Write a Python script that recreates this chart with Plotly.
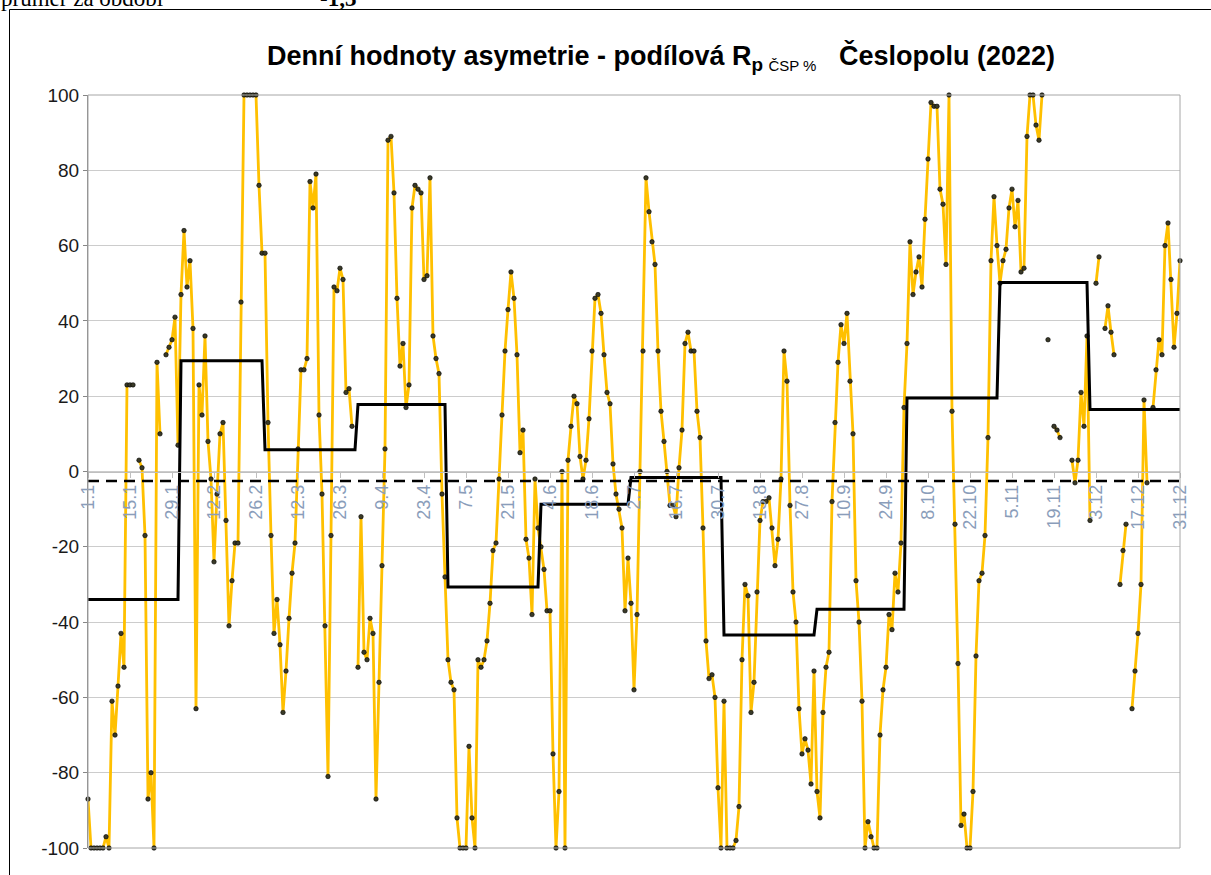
import pandas as pd
import plotly.graph_objects as go

# daily values (None = missing day)
JAN = [-87, -100, -100, -100, -100, -100, -97, -100, -61, -70, -57, -43, -52, 23, 23, 23, None,
       3, 1, -17, -87, -80, -100, 29, 10, None, 31, 33, 35, 41, 7]
FEB = [47, 64, 49, 56, 38, -63, 23, 15, 36, 8, -2, -24, -6, 10, 13, -13, -41, -29, -19, -19,
       45, 100, 100, 100, 100, 100, 76, 58]
MAR = [58, 13, -17, -43, -34, -46, -64, -53, -39, -27, -19, 6, 27, 27, 30, 77, 70, 79, 15, -6,
       -41, -81, -17, 49, 48, 54, 51, 21, 22, 12, None]
APR = [-52, -12, -48, -50, -39, -43, -87, -56, -25, 6, 88, 89, 74, 46, 28, 34, 17, 23, 70, 76,
       75, 74, 51, 52, 78, 36, 30, 26, -6, -28]
MAY = [-50, -56, -58, -92, -100, -100, -100, -73, -92, -100, -50, -52, -50, -45, -35, -21, -19,
       -2, 15, 32, 43, 53, 46, 31, 5, 11, -18, -23, -38, -2, -15]
JUN = [-20, -26, -37, -37, -75, -100, -85, 0, -100, 3, 12, 20, 18, 4, -2, 3, 14, 32, 46, 47,
       42, 31, 21, 18, 2, -6, -10, -15, -37, -23]
JUL = [-35, -58, -38, 0, 32, 78, 69, 61, 55, 32, 16, 8, 0, -9, -9, -12, 1, 11, 34, 37, 32, 32,
       16, 9, -15, -45, -55, -54, -60, -84, -100]
AUG = [-61, -100, -100, -100, -98, -89, -50, -30, -33, -64, -56, -32, -13, -8, -8, -7, -15, -25,
       -18, -2, 32, 24, -9, -32, -40, -63, -75, -71, -74, -83, -53]
SEP = [-85, -92, -64, -52, -48, -8, 13, 29, 39, 34, 42, 24, 10, -29, -40, -61, -100, -93, -97,
       -100, -100, -70, -58, -52, -38, -42, -27, -32, -19, 17]
OCT = [34, 61, 47, 53, 57, 49, 67, 83, 98, 97, 97, 75, 71, 55, 100, 16, -14, -51, -94, -91,
       -100, -100, -85, -49, -29, -27, -17, 9, 56, 73, 60]
NOV = [50, 56, 59, 70, 75, 65, 72, 53, 54, 89, 100, 100, 92, 88, 100, None, 35, None, 12, 11, 9,
       None, None, None, 3, -3, 3, 21, 12, 36]
DEC = [-13, None, 50, 57, None, 38, 44, 37, 31, None, -30, -21, -14, None, -63, -53, -43, -30,
       19, -3, None, 17, 27, 35, 31, 60, 66, 51, 33, 42, 56]

MONTHS = [JAN, FEB, MAR, APR, MAY, JUN, JUL, AUG, SEP, OCT, NOV, DEC]
# monthly averages (black step line)
MONTH_AVG = [-34.0, 29.4, 5.8, 17.8, -30.7, -8.7, -1.6, -43.4, -36.6, 19.5, 50.2, 16.5]
PERIOD_LEVEL = -2.5  # dashed line
Y_TICKS = [100, 80, 60, 40, 20, 0, -20, -40, -60, -80, -100]

days = pd.date_range("2022-01-01", "2022-12-31", freq="D")
daily = [v for m in MONTHS for v in m]
step = [MONTH_AVG[i] for i, m in enumerate(MONTHS) for _ in m]
assert len(daily) == len(days)

L, R, T, B = 88, 31, 95, 27
W, H = 1211, 875
PW, PH = W - L - R, H - T - B


def px(x):
    return (x - L) / PW


def py(y):
    return (H - B - y) / PH


fig = go.Figure()
fig.add_trace(go.Scatter(
    x=days, y=daily, mode="lines+markers", connectgaps=False, cliponaxis=False,
    line=dict(color="#FFC000", width=2.8),
    marker=dict(size=4.5, color="#3a3a28", line=dict(color="#000000", width=0.6)),
    showlegend=False,
))
fig.add_trace(go.Scatter(
    x=days, y=step, mode="lines", line=dict(color="#000000", width=3), showlegend=False,
))
fig.add_trace(go.Scatter(
    x=[days[0], days[-1]], y=[PERIOD_LEVEL, PERIOD_LEVEL], mode="lines",
    line=dict(color="#000000", width=2.5, dash="11px,7px"), showlegend=False,
))

tick_dates = pd.date_range("2022-01-01", "2022-12-31", freq="14D")

fig.update_layout(
    width=W, height=H,
    margin=dict(l=L, r=R, t=T, b=B),
    paper_bgcolor="white", plot_bgcolor="white",
    font=dict(family="Arial, Liberation Sans", color="#000000"),
    xaxis=dict(
        type="date", range=[days[0], days[-1]],
        anchor="free", position=0.5,
        tickvals=tick_dates, tickformat="%-d.%-m", tickangle=-90,
        tickfont=dict(size=18, color="#8A9DBA"),
        showgrid=False, zeroline=False,
        showline=True, linecolor="#bfbfbf", linewidth=1,
        ticks="outside", ticklen=5, tickcolor="#bfbfbf",
    ),
    yaxis=dict(
        range=[-100, 100], tickvals=Y_TICKS, ticktext=[str(v) for v in Y_TICKS],
        showgrid=True, gridcolor="#cccccc", gridwidth=1, zeroline=False,
        showline=True, linecolor="#868686", linewidth=1,
        ticks="outside", ticklen=4, tickcolor="#868686",
        tickfont=dict(size=19, color="#1a1a1a"),
    ),
    shapes=[
        dict(type="rect", xref="paper", yref="paper", x0=0, x1=1, y0=0, y1=1,
             line=dict(color="#a6a6a6", width=1), layer="above"),
        dict(type="rect", xref="paper", yref="paper", x0=px(9.5), x1=px(1216),
             y0=py(880), y1=py(9.5), line=dict(color="#000000", width=1)),
    ],
    annotations=[
        dict(xref="paper", yref="paper", x=px(661), y=py(57), xanchor="center", yanchor="middle",
             showarrow=False, font=dict(size=27, color="#000000"),
             text="<b>Denní hodnoty asymetrie - podílová R</b><sub><b>p</b>"
                  " <span style='font-size:15px'>ČSP %</span></sub>"
                  "&nbsp;&nbsp;&nbsp;<b>Česlopolu (2022)</b>"),
        dict(xref="paper", yref="paper", x=px(-1), y=py(-1), xanchor="left", yanchor="middle",
             showarrow=False, font=dict(size=23, family="Liberation Serif, Times New Roman"),
             text="průměr za období"),
        dict(xref="paper", yref="paper", x=px(318), y=py(-1), xanchor="left", yanchor="middle",
             showarrow=False, font=dict(size=23, family="Liberation Serif, Times New Roman"),
             text="<b>-1,3</b>"),
    ],
)

fig.write_html("out.html", config={"displayModeBar": False},
               post_script="document.body.style.margin='0';")
